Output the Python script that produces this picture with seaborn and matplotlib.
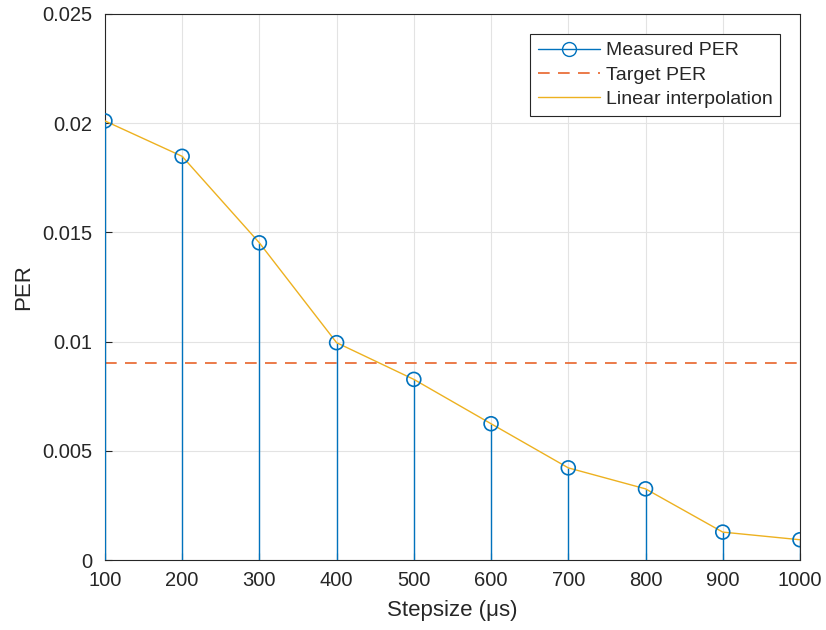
import matplotlib
matplotlib.use("Agg")
import matplotlib.pyplot as plt
import seaborn as sns
import pandas as pd
from matplotlib.lines import Line2D

stepsize = [100, 200, 300, 400, 500, 600, 700, 800, 900, 1000]
per = [0.0201, 0.01848, 0.01452, 0.00995, 0.00827, 0.00624, 0.00422, 0.00326, 0.00128, 0.00093]
target_per = 0.009
x_ticks = [100, 200, 300, 400, 500, 600, 700, 800, 900, 1000]
y_ticks = [0, 0.005, 0.01, 0.015, 0.02, 0.025]
y_ticklabels = ["0", "0.005", "0.01", "0.015", "0.02", "0.025"]

sns.set_theme(style="white")
plt.rcParams['font.family'] = ['Liberation Sans', 'DejaVu Sans']

blue = "#0072BD"
orange = "#E8632A"
yellow = "#EDB120"

df = pd.DataFrame({"Stepsize": stepsize, "PER": per})

fig = plt.figure(figsize=(8.26, 6.30), dpi=100)
ax = fig.add_axes([0.127, 0.111, 0.8415, 0.867])

# stems
ax.vlines(df["Stepsize"], 0, df["PER"], color=blue, lw=1.0, zorder=3)
# target
ax.axhline(target_per, color=orange, lw=1.2, ls=(0, (7, 5)), zorder=2)
# interpolation line
sns.lineplot(data=df, x="Stepsize", y="PER", ax=ax, color=yellow, lw=1.0, zorder=4)
# markers
sns.scatterplot(data=df, x="Stepsize", y="PER", ax=ax, marker="o", s=100,
                facecolor="none", edgecolor=blue, linewidth=1.2, zorder=5)

ax.set_xlim(100, 1000)
ax.set_ylim(0, 0.025)
ax.set_xticks(x_ticks)
ax.set_yticks(y_ticks)
ax.set_yticklabels(y_ticklabels)
ax.grid(True, color="#E3E3E3", lw=0.8)
ax.set_axisbelow(True)
for s in ax.spines.values():
    s.set_color("#262626")
    s.set_linewidth(0.8)
ax.tick_params(direction="in", length=5, width=0.8, colors="#262626", labelsize=14.5,
               top=False, right=False, bottom=True, left=True)
ax.tick_params(axis="y", pad=9)
ax.tick_params(axis="x", pad=8)
ax.set_xlabel("Stepsize (μs)", fontsize=16, color="#262626", labelpad=7)
ax.set_ylabel("PER", fontsize=16, color="#262626", labelpad=6)

handles = [
    Line2D([0], [0], color=blue, lw=1.0, marker="o", markersize=10,
           markerfacecolor="none", markeredgecolor=blue, markevery=[1]),
    Line2D([0], [0], color=orange, lw=1.2, ls=(0, (7, 5))),
    Line2D([0], [0], color=yellow, lw=1.0),
]
leg = ax.legend(handles, ["Measured PER", "Target PER", "Linear interpolation"],
                loc="upper right", bbox_to_anchor=(0.9715, 0.963), fontsize=14,
                frameon=True, fancybox=False, handlelength=3.2, handletextpad=0.3,
                borderpad=0.4, labelspacing=0.35, borderaxespad=0)
leg.get_frame().set_edgecolor("#262626")
leg.get_frame().set_linewidth(0.8)
leg.get_frame().set_alpha(1)

fig.savefig("out.png", dpi=100)
